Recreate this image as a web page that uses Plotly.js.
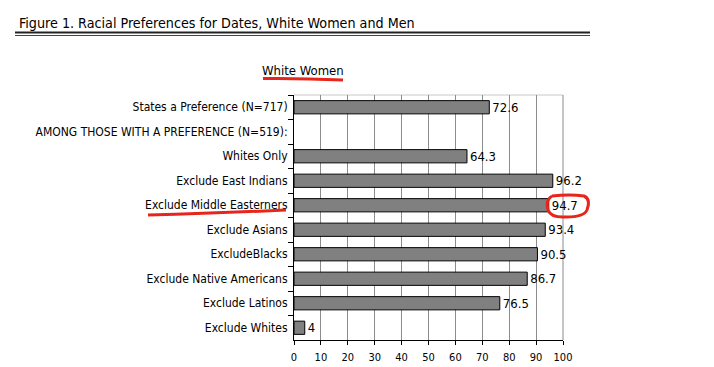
<!DOCTYPE html>
<html>
<head>
<meta charset="utf-8">
<script src="https://cdn.plot.ly/plotly-3.0.1.min.js"></script>
<style>html,body{margin:0;padding:0;background:#fff;}#chart{width:714px;height:367px;}</style>
</head>
<body>
<div id="chart"></div>
<script>
// ---- data ----
var categories = [
  "States a Preference (N=717)",
  "AMONG THOSE WITH A PREFERENCE (N=519):",
  "Whites Only",
  "Exclude East Indians",
  "Exclude Middle Easterners",
  "Exclude Asians",
  "ExcludeBlacks",
  "Exclude Native Americans",
  "Exclude Latinos",
  "Exclude Whites"
];
var values = [72.6, null, 64.3, 96.2, 94.7, 93.4, 90.5, 86.7, 76.5, 4];
var xTickVals = [0, 10, 20, 30, 40, 50, 60, 70, 80, 90, 100];
var chartTitle = "Figure 1. Racial Preferences for Dates, White Women and Men";
var panelTitle = "White Women";

// ---- layout helpers (pixel -> paper) ----
var W = 714, H = 367;
var L = 294, R = 563, T = 95, B = 340;
function px(x){ return (x - L) / (R - L); }
function py(y){ return (B - y) / (B - T); }
var FONT = "DejaVu Sans Condensed, DejaVu Sans, sans-serif";
var RED = "#e8251c";

var trace = {
  type: "bar",
  orientation: "h",
  y: categories,
  x: values,
  width: 0.54,
  marker: {color: "#808080", line: {color: "#000", width: 1}},
  text: values.map(function(v){ return v === null ? "" : String(v); }),
  textposition: "outside",
  textfont: {family: FONT, size: 13, color: "#000"},
  constraintext: "none",
  cliponaxis: false,
  hoverinfo: "skip"
};

function pathCurve(x0, y0, xc, yc, x1, y1){
  return "M" + px(x0) + "," + py(y0) + " Q" + px(xc) + "," + py(yc) + " " + px(x1) + "," + py(y1);
}

var layout = {
  width: W, height: H,
  margin: {l: L, r: W - R, t: T, b: H - B, pad: 0},
  paper_bgcolor: "#fff", plot_bgcolor: "#fff",
  showlegend: false,
  font: {family: FONT, size: 11, color: "#000"},
  title: {
    text: chartTitle,
    font: {family: FONT, size: 14.2, color: "#000"},
    xref: "container", yref: "container",
    x: 19 / W, xanchor: "left",
    y: 1 - 23 / H, yanchor: "middle"
  },
  xaxis: {
    range: [0, 100],
    tickvals: xTickVals,
    ticktext: xTickVals.map(String),
    ticks: "outside", ticklen: 4, tickcolor: "#000", tickwidth: 1,
    ticklabelstandoff: 3,
    showline: true, linecolor: "#000", linewidth: 1,
    showgrid: true, gridcolor: "#8c8c8c", gridwidth: 1,
    zeroline: false,
    tickfont: {family: FONT, size: 11, color: "#000"},
    fixedrange: true
  },
  yaxis: {
    type: "category",
    autorange: "reversed",
    ticks: "outside", ticklen: 5, tickcolor: "#000", tickson: "boundaries",
    ticklabelstandoff: 3,
    showline: true, linecolor: "#000", linewidth: 1,
    showgrid: false, zeroline: false,
    tickfont: {family: FONT, size: 12, color: "#000"},
    fixedrange: true
  },
  bargap: 0.46,
  shapes: [
    // plot border (top and right)
    {type: "line", xref: "paper", yref: "paper", x0: 0, x1: 1, y0: 1, y1: 1, line: {color: "#c8c8c8", width: 1}, layer: "below"},
    {type: "line", xref: "paper", yref: "paper", x0: 1, x1: 1, y0: 0, y1: 1, line: {color: "#8c8c8c", width: 1}, layer: "below"},
    // double rule under the figure title
    {type: "line", xref: "paper", yref: "paper", x0: px(15), x1: px(590), y0: py(32.5), y1: py(32.5), line: {color: "#222", width: 2}},
    {type: "line", xref: "paper", yref: "paper", x0: px(15), x1: px(590), y0: py(35.5), y1: py(35.5), line: {color: "#444", width: 1}},
    // red hand annotations
    {type: "path", xref: "paper", yref: "paper", path: pathCurve(263, 78.5, 300, 78, 343, 80), line: {color: RED, width: 3}},
    {type: "path", xref: "paper", yref: "paper", path: pathCurve(148, 215, 220, 213, 286, 210), line: {color: RED, width: 3}},
    {type: "path", xref: "paper", yref: "paper",
      path: "M" + px(552) + "," + py(196) +
            " Q" + px(570) + "," + py(194) + " " + px(584) + "," + py(196) +
            " Q" + px(591) + "," + py(199) + " " + px(587) + "," + py(210) +
            " Q" + px(584) + "," + py(217) + " " + px(566) + "," + py(217) +
            " Q" + px(551) + "," + py(218) + " " + px(548) + "," + py(210) +
            " Q" + px(545) + "," + py(200) + " " + px(552) + "," + py(196),
      line: {color: RED, width: 3}}
  ],
  annotations: [
    {text: panelTitle, xref: "paper", yref: "paper", x: px(303), y: py(70),
     xanchor: "center", yanchor: "middle", showarrow: false,
     font: {family: FONT, size: 13, color: "#000"}}
  ]
};

Plotly.newPlot("chart", [trace], layout, {staticPlot: true, displayModeBar: false});
</script>
</body>
</html>
